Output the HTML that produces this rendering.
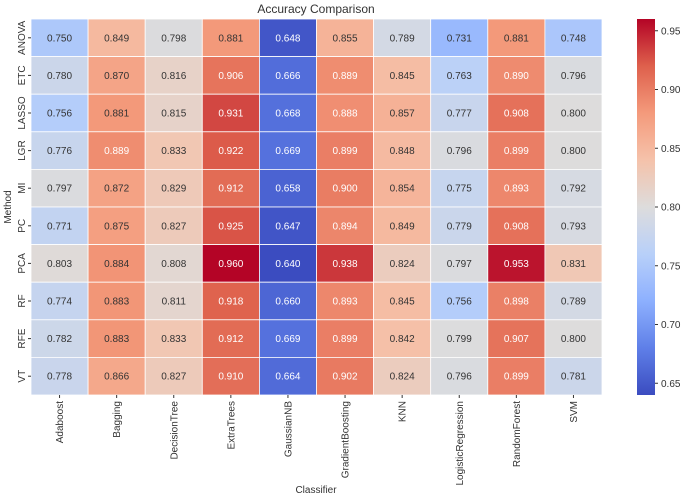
<!DOCTYPE html>
<html><head><meta charset="utf-8"><style>
body{margin:0;background:#fff;font-family:"Liberation Sans","DejaVu Sans",sans-serif}
svg text{font-family:"Liberation Sans","DejaVu Sans",sans-serif;fill:#333}
</style></head><body>
<svg id="chart" width="685" height="498" viewBox="0 0 685 498">
<defs><linearGradient id="cbg" x1="0" y1="1" x2="0" y2="0"></linearGradient></defs>
<text x="316" y="13" text-anchor="middle" font-size="12">Accuracy Comparison</text>
<text transform="translate(11,207) rotate(-90)" text-anchor="middle" font-size="10">Method</text>
<text x="316" y="493" text-anchor="middle" font-size="10">Classifier</text>
<g id="cells"></g><g id="xt"></g><g id="yt"></g><g id="cb"></g>
</svg>
<script>
const classifiers=["Adaboost","Bagging","DecisionTree","ExtraTrees","GaussianNB","GradientBoosting","KNN","LogisticRegression","RandomForest","SVM"];
const methods=["ANOVA","ETC","LASSO","LGR","MI","PC","PCA","RF","RFE","VT"];
const rowANOVA=[0.750,0.849,0.798,0.881,0.648,0.855,0.789,0.731,0.881,0.748];
const rowETC=[0.780,0.870,0.816,0.906,0.666,0.889,0.845,0.763,0.890,0.796];
const rowLASSO=[0.756,0.881,0.815,0.931,0.668,0.888,0.857,0.777,0.908,0.800];
const rowLGR=[0.776,0.889,0.833,0.922,0.669,0.899,0.848,0.796,0.899,0.800];
const rowMI=[0.797,0.872,0.829,0.912,0.658,0.900,0.854,0.775,0.893,0.792];
const rowPC=[0.771,0.875,0.827,0.925,0.647,0.894,0.849,0.779,0.908,0.793];
const rowPCA=[0.803,0.884,0.808,0.960,0.640,0.938,0.824,0.797,0.953,0.831];
const rowRF=[0.774,0.883,0.811,0.918,0.660,0.893,0.845,0.756,0.898,0.789];
const rowRFE=[0.782,0.883,0.833,0.912,0.669,0.899,0.842,0.799,0.907,0.800];
const rowVT=[0.778,0.866,0.827,0.910,0.664,0.902,0.824,0.796,0.899,0.781];
const cbTicks=[0.65,0.70,0.75,0.80,0.85,0.90,0.95];
const values=[rowANOVA,rowETC,rowLASSO,rowLGR,rowMI,rowPC,rowPCA,rowRF,rowRFE,rowVT];
const NS="http://www.w3.org/2000/svg";
const X0=31,X1=602,Y0=19,Y1=395;
const all=values.flat();const vmin=Math.min(...all),vmax=Math.max(...all);
const cw=(X1-X0)/classifiers.length,rh=(Y1-Y0)/methods.length;
const xS=i=>X0+i*cw, yS=i=>Y0+i*rh;
const stops=[[0,[59,76,192]],[0.125,[95,127,232]],[0.25,[141,176,254]],[0.375,[184,208,249]],[0.5,[221,220,220]],[0.625,[245,194,170]],[0.75,[244,154,123]],[0.875,[222,96,76]],[1,[180,4,38]]];
function cmap(t){t=Math.max(0,Math.min(1,t));for(let i=1;i<stops.length;i++){if(t<=stops[i][0]){const a=stops[i-1],b=stops[i],f=(t-a[0])/(b[0]-a[0]);return a[1].map((v,k)=>Math.round(v+(b[1][k]-v)*f));}}return stops[stops.length-1][1];}
function lum(c){const l=c.map(v=>{v/=255;return v<=0.03928?v/12.92:Math.pow((v+0.055)/1.055,2.4)});return 0.2126*l[0]+0.7152*l[1]+0.0722*l[2];}
function mk(tag,attrs,parent){const e=document.createElementNS(NS,tag);for(const k in attrs)e.setAttribute(k,attrs[k]);parent.appendChild(e);return e;}
const cells=document.getElementById('cells');
values.forEach((row,r)=>row.forEach((v,c)=>{
 const col=cmap((v-vmin)/(vmax-vmin));
 const rect=mk('rect',{x:xS(c),y:yS(r),width:cw,height:rh,fill:`rgb(${col})`,stroke:'#fff','stroke-width':0.8},cells);
 
 
 const t=mk('text',{x:xS(c)+cw/2,y:yS(r)+rh/2+3.5,'text-anchor':'middle','font-size':'10'},cells);
 t.style.fill=lum(col)<0.408?'#fff':'#333';
 t.textContent=v.toFixed(3);
 
 
}));
const xt=document.getElementById('xt');
classifiers.forEach((n,i)=>{const x=xS(i)+cw/2;
 mk('line',{x1:x,x2:x,y1:Y1,y2:Y1+3,stroke:'#333'},xt);
 const t=mk('text',{transform:`translate(${x+3.5},${Y1+6}) rotate(-90)`,'text-anchor':'end','font-size':'10'},xt);
 t.textContent=n;
 
 });
const yt=document.getElementById('yt');
methods.forEach((n,i)=>{const y=yS(i)+rh/2;
 mk('line',{x1:X0-3,x2:X0,y1:y,y2:y,stroke:'#333'},yt);
 const t=mk('text',{transform:`translate(${X0-6},${y}) rotate(-90)`,'text-anchor':'middle','font-size':'10'},yt);
 t.textContent=n;
 
 });
const g=document.getElementById('cbg');
for(let i=0;i<=16;i++){const c=cmap(i/16);mk('stop',{offset:(i/16),'stop-color':`rgb(${c})`},g);}
const cb=document.getElementById('cb');
const CX=637,CW=18;
const bar=mk('rect',{x:CX,y:Y0,width:CW,height:Y1-Y0,fill:'url(#cbg)'},cb);


const cy=v=>Y1-(v-vmin)/(vmax-vmin)*(Y1-Y0);
cbTicks.forEach(v=>{const y=cy(v);
 mk('line',{x1:CX+CW,x2:CX+CW+3,y1:y,y2:y,stroke:'#333'},cb);
 const t=mk('text',{x:CX+CW+6,y:y+3.5,'font-size':'10'},cb);
 t.textContent=v.toFixed(2);
 
 });
</script>
</body></html>
